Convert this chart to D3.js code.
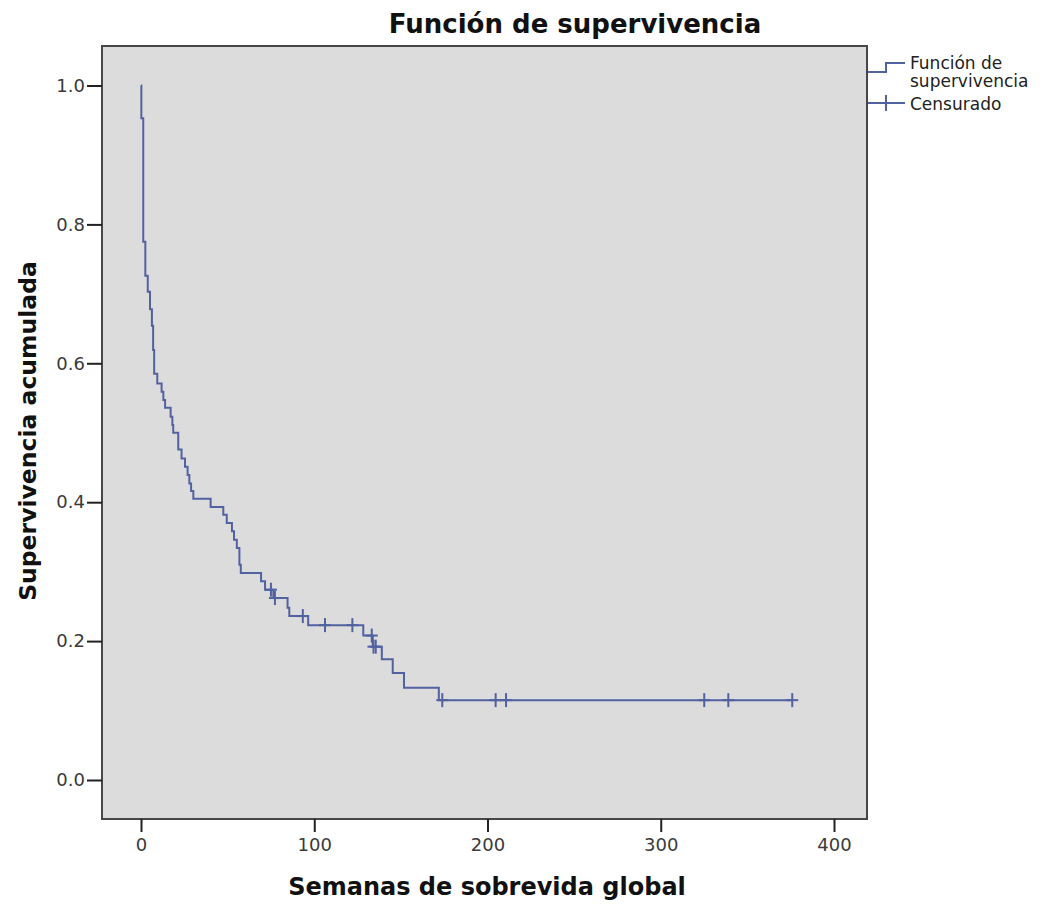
<!DOCTYPE html>
<html>
<head>
<meta charset="utf-8">
<script src="https://cdn.jsdelivr.net/npm/d3@7"></script>
<style>
  body { margin: 0; background: #fff; }
  text { font-family: "DejaVu Sans", sans-serif; }
</style>
</head>
<body>
<svg id="chart" width="1050" height="907"></svg>
<script>
// KM steps: time (weeks) of each drop and survival after it
var eventTimes = [0.2, 1.3, 2.5, 3.9, 5.2, 6.3, 7.0, 7.6, 9.4, 11.9, 12.9, 13.9, 17.1, 18.1, 18.6,
  21.5, 23.4, 25.4, 26.9, 27.9, 28.9, 30.2, 40.2, 47.5, 49.5, 52.5, 53.7, 55.3, 56.8, 57.6,
  69.3, 71.6, 76.4, 84.6, 85.6, 96.5, 128.3, 133.8, 139.0, 145.3, 151.8, 171.9];
var eventSurv = [0.953, 0.775, 0.726, 0.703, 0.678, 0.654, 0.619, 0.585, 0.571, 0.559, 0.547, 0.536, 0.523, 0.511, 0.500,
  0.476, 0.463, 0.451, 0.439, 0.427, 0.416, 0.405, 0.393, 0.382, 0.370, 0.358, 0.346, 0.334, 0.310, 0.298,
  0.286, 0.274, 0.262, 0.248, 0.236, 0.223, 0.208, 0.192, 0.174, 0.154, 0.133, 0.115];
// censored cases
var censorTimes = [75.0, 77.3, 93.4, 106.2, 122.0, 133.2, 134.2, 135.5, 173.9, 204.7, 210.7, 325.1, 339.0, 375.9];
var censorSurv = [0.274, 0.262, 0.236, 0.223, 0.223, 0.208, 0.192, 0.192, 0.115, 0.115, 0.115, 0.115, 0.115, 0.115];

var xTicks = [0, 100, 200, 300, 400];
var yTicks = [0.0, 0.2, 0.4, 0.6, 0.8, 1.0];
var legendLabels = [["Función de", "supervivencia"], ["Censurado"]];

var lineColor = "#5261a0";

var svg = d3.select("#chart");
var plotLeft = 102, plotTop = 46, plotRight = 867, plotBottom = 819;

var xScale = d3.scaleLinear().domain([0, 400]).range([141, 834]);
var yScale = d3.scaleLinear().domain([0, 1]).range([780, 85.5]);

// plot background
svg.append("rect")
  .attr("x", plotLeft).attr("y", plotTop)
  .attr("width", plotRight - plotLeft).attr("height", plotBottom - plotTop)
  .style("fill", "#dcdcdc")
  .style("stroke", "#474747")
  .style("stroke-width", 2);

// axes
var xAxis = svg.append("g")
  .attr("transform", "translate(0," + plotBottom + ")")
  .call(d3.axisBottom(xScale).tickValues(xTicks).tickSize(13).tickPadding(6).tickFormat(d3.format("d")));
var yAxis = svg.append("g")
  .attr("transform", "translate(" + plotLeft + ",0)")
  .call(d3.axisLeft(yScale).tickValues(yTicks).tickSize(15).tickPadding(2).tickFormat(d3.format(".1f")));
[xAxis, yAxis].forEach(function(a) {
  a.select(".domain").remove();
  a.selectAll(".tick line").style("stroke", "#222").style("stroke-width", 2);
  a.selectAll(".tick text")
    .style("font-family", "DejaVu Sans, sans-serif")
    .style("font-size", "18px")
    .style("fill", "#3a3a3a");
});

// survival step line
var pts = [[0, 1]];
eventTimes.forEach(function(t, i) {
  pts.push([t, i == 0 ? 1 : eventSurv[i - 1]]);
  pts.push([t, eventSurv[i]]);
});
pts.push([censorTimes[censorTimes.length - 1], eventSurv[eventSurv.length - 1]]);

var line = d3.line()
  .x(function(d) { return xScale(d[0]); })
  .y(function(d) { return yScale(d[1]); });

svg.append("path")
  .datum(pts)
  .attr("d", line)
  .style("fill", "none")
  .style("stroke", lineColor)
  .style("stroke-width", 2);

// censor marks
svg.selectAll(".censor").data(censorTimes).enter()
  .append("line")
    .attr("class", "censor")
    .attr("x1", function(d) { return xScale(d); })
    .attr("x2", function(d) { return xScale(d); })
    .attr("y1", function(d, i) { return yScale(censorSurv[i]) - 7; })
    .attr("y2", function(d, i) { return yScale(censorSurv[i]) + 7; })
    .style("stroke", lineColor)
    .style("stroke-width", 2);
svg.selectAll(".censorH").data(censorTimes).enter()
  .append("line")
    .attr("class", "censorH")
    .attr("x1", function(d) { return xScale(d) - 6; })
    .attr("x2", function(d) { return xScale(d) + 6; })
    .attr("y1", function(d, i) { return yScale(censorSurv[i]); })
    .attr("y2", function(d, i) { return yScale(censorSurv[i]); })
    .style("stroke", lineColor)
    .style("stroke-width", 2);

// titles
svg.append("text")
  .attr("x", 575).attr("y", 33)
  .style("text-anchor", "middle")
  .style("font-size", "26px")
  .style("font-weight", "bold")
  .style("fill", "#111")
  .text("Función de supervivencia");

svg.append("text")
  .attr("x", 487).attr("y", 895)
  .style("text-anchor", "middle")
  .style("font-size", "24px")
  .style("font-weight", "bold")
  .style("fill", "#111")
  .text("Semanas de sobrevida global");

svg.append("text")
  .attr("transform", "translate(36,431) rotate(-90)")
  .style("text-anchor", "middle")
  .style("font-size", "23.5px")
  .style("font-weight", "bold")
  .style("fill", "#111")
  .text("Supervivencia acumulada");

// legend
var lg = svg.append("g");
lg.append("path")
  .attr("d", "M868,72 H886 V63 H905")
  .style("fill", "none").style("stroke", lineColor).style("stroke-width", 2);
lg.append("line")
  .attr("x1", 868).attr("x2", 905).attr("y1", 103).attr("y2", 103)
  .style("stroke", lineColor).style("stroke-width", 2);
lg.append("line")
  .attr("x1", 886).attr("x2", 886).attr("y1", 95).attr("y2", 111)
  .style("stroke", lineColor).style("stroke-width", 2);
var legendY = [[69, 87], [110]];
legendLabels.forEach(function(lines, i) {
  lines.forEach(function(s, j) {
    lg.append("text")
      .attr("x", 910).attr("y", legendY[i][j])
      .style("font-size", "17px")
      .style("fill", "#222")
      .text(s);
  });
});
</script>
</body>
</html>
